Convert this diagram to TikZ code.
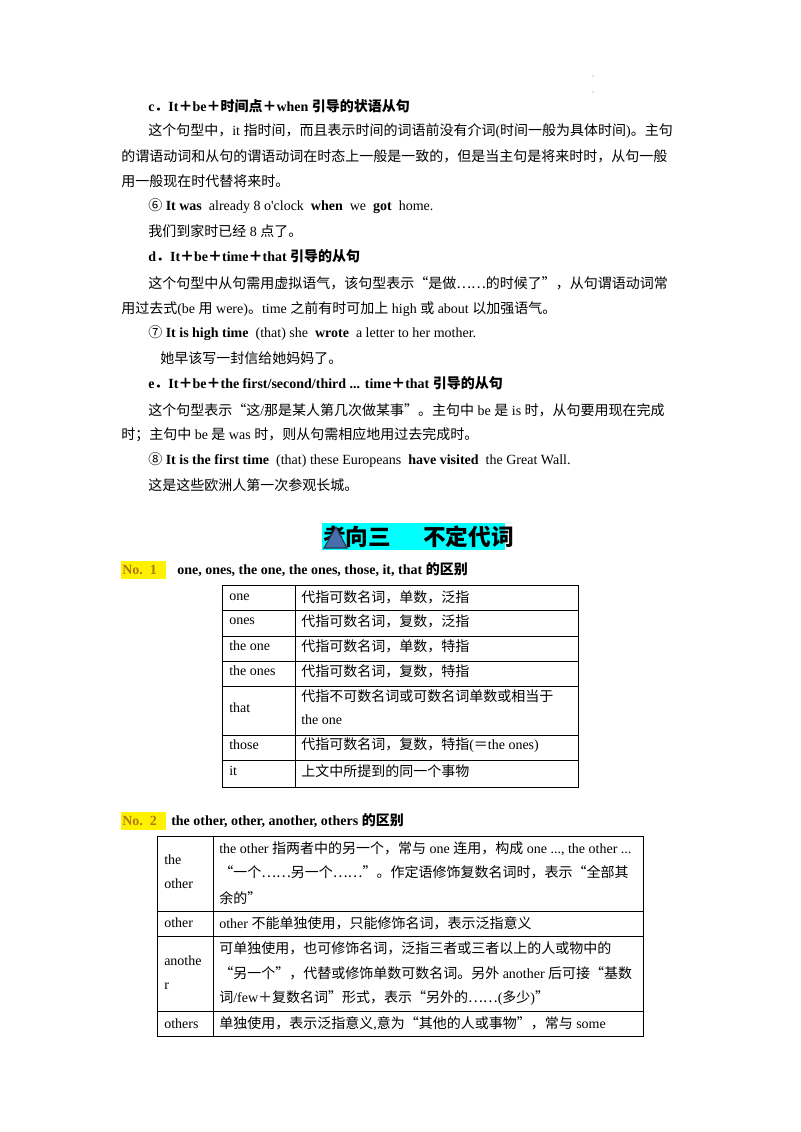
\documentclass[tikz,border=0pt]{standalone}
\usepackage{fontspec}
\setmainfont{Liberation Serif}
\newfontfamily\cjk{Noto Sans CJK SC}
\XeTeXinterchartokenstate=1
\newXeTeXintercharclass\mycjk
\makeatletter
\def\setcjkrange#1#2{\count@=#1\relax\loop\XeTeXcharclass\count@=\mycjk\ifnum\count@<#2\advance\count@ 1\repeat}
\makeatother
\setcjkrange{"4E00}{"9FFF}
\setcjkrange{"3000}{"303F}
\setcjkrange{"FF00}{"FFEF}
\setcjkrange{"2460}{"24FF}
\XeTeXcharclass"201C=\mycjk \XeTeXcharclass"201D=\mycjk \XeTeXcharclass"2026=\mycjk
\XeTeXinterchartoks 0 \mycjk = {\begingroup\cjk}
\XeTeXinterchartoks 4095 \mycjk = {\begingroup\cjk}
\XeTeXinterchartoks \mycjk 0 = {\endgroup}
\XeTeXinterchartoks \mycjk 4095 = {\endgroup}
\definecolor{nocol}{HTML}{B07A10}
\definecolor{titlebg}{HTML}{00FFFF}
\tikzset{t/.style={anchor=west,inner sep=0pt,font=\fontsize{10.5}{12}\selectfont},
 cell/.style={draw=black,line width=0.6pt}}
\begin{document}
\begin{tikzpicture}[x=0.75pt,y=-0.75pt]
\useasboundingbox (0,0) rectangle (800,1132);
\fill[gray] (593,76) circle (0.6) (593,92) circle (0.6);
\node[t] (c1) at (148,106) {\textbf{c．It＋be＋时间点＋when 引导的状语从句}};
\node[t] (c2) at (148,131) {这个句型中，it 指时间，而且表示时间的词语前没有介词(时间一般为具体时间)。主句};
\node[t] (c3) at (121,156) {的谓语动词和从句的谓语动词在时态上一般是一致的，但是当主句是将来时时，从句一般};
\node[t] (c4) at (121,181) {用一般现在时代替将来时。};
\node[t] (c5) at (148,206) {⑥ \textbf{It was}\ \ already 8 o\textquotesingle clock\ \ \textbf{when}\ \ we\ \ \textbf{got}\ \ home.};
\node[t] (c6) at (148,231) {我们到家时已经 8 点了。};
\node[t] (d1) at (148,256) {\textbf{d．It＋be＋time＋that 引导的从句}};
\node[t] (d2) at (148,283) {这个句型中从句需用虚拟语气，该句型表示“是做……的时候了”，从句谓语动词常};
\node[t] (d3) at (121,309) {用过去式(be 用 were)。time 之前有时可加上 high 或 about 以加强语气。};
\node[t] (d4) at (148,333) {⑦ \textbf{It is high time}\ \ (that) she\ \ \textbf{wrote}\ \ a letter to her mother.};
\node[t] (d5) at (160,358) {她早该写一封信给她妈妈了。};
\node[t] (e1) at (148,383) {\textbf{e．It＋be＋the first/second/third ... time＋that 引导的从句}};
\node[t] (e2) at (148,410) {这个句型表示“这/那是某人第几次做某事”。主句中 be 是 is 时，从句要用现在完成};
\node[t] (e3) at (121,435) {时；主句中 be 是 was 时，则从句需相应地用过去完成时。};
\node[t] (e4) at (148,460) {⑧ \textbf{It is the first time}\ \ (that) these Europeans\ \ \textbf{have visited}\ \ the Great Wall.};
\node[t] (e5) at (148,485) {这是这些欧洲人第一次参观长城。};
% title
\fill[titlebg] (322,523) rectangle (505,550);
\node[t,font=\fontsize{17}{19}\selectfont\bfseries] (title) at (323,537) {考向三\hspace{24pt}不定代词};
\draw[fill={rgb,255:red,70;green,110;blue,170},draw={rgb,255:red,40;green,50;blue,80},line width=0.8pt] (324,548) -- (336,527) -- (347,548) -- cycle;
% No.1
\fill[yellow] (121,561) rectangle (166,579);
\node[t,text=nocol] (n1) at (122,570) {\textbf{No.\ \ 1}};
\node[t] (h1) at (177,570) {\textbf{one, ones, the one, the ones, those, it, that 的区别}};
\foreach \a/\b in {585/610,610/636,636/661,661/686,686/735,735/760,760/787}{
 \draw[cell] (222,\a) rectangle (295,\b); \draw[cell] (295,\a) rectangle (578,\b);}
\node[t] (r1a) at (229,597) {one}; \node[t] (r1b) at (301,597) {代指可数名词，单数，泛指};
\node[t] (r2a) at (229,621) {ones}; \node[t] (r2b) at (301,621) {代指可数名词，复数，泛指};
\node[t] (r3a) at (229,646) {the one}; \node[t] (r3b) at (301,646) {代指可数名词，单数，特指};
\node[t] (r4a) at (229,671) {the ones}; \node[t] (r4b) at (301,671) {代指可数名词，复数，特指};
\node[t] (r5a) at (229,708) {that}; \node[t] (r5b) at (301,696) {代指不可数名词或可数名词单数或相当于};
\node[t] (r5c) at (301,720) {the one};
\node[t] (r6a) at (229,745) {those}; \node[t] (r6b) at (301,745) {代指可数名词，复数，特指(＝the ones)};
\node[t] (r7a) at (229,771) {it}; \node[t] (r7b) at (301,771) {上文中所提到的同一个事物};
% No.2
\fill[yellow] (121,812) rectangle (166,830);
\node[t,text=nocol] (n2) at (122,821) {\textbf{No.\ \ 2}};
\node[t] (h2) at (171,821) {\textbf{the other, other, another, others 的区别}};
\foreach \a/\b in {836/911,911/936,936/1011,1011/1036}{
 \draw[cell] (157,\a) rectangle (213,\b); \draw[cell] (213,\a) rectangle (643,\b);}
\node[t] (s1a) at (164,860) {the}; \node[t] (s1b) at (164,884) {other};
\node[t] (s1c) at (219,849) {the other 指两者中的另一个，常与 one 连用，构成 one ..., the other ...};
\node[t] (s1d) at (219,872) {“一个……另一个……”。作定语修饰复数名词时，表示“全部其};
\node[t] (s1e) at (219,898) {余的”};
\node[t] (s2a) at (164,923) {other}; \node[t] (s2b) at (219,923) {other 不能单独使用，只能修饰名词，表示泛指意义};
\node[t] (s3a) at (164,961) {anothe}; \node[t] (s3b) at (164,986) {r};
\node[t] (s3c) at (219,948) {可单独使用，也可修饰名词，泛指三者或三者以上的人或物中的};
\node[t] (s3d) at (219,973) {“另一个”，代替或修饰单数可数名词。另外 another 后可接“基数};
\node[t] (s3e) at (219,998) {词/few＋复数名词”形式，表示“另外的……(多少)”};
\node[t] (s4a) at (164,1024) {others}; \node[t] (s4b) at (219,1024) {单独使用，表示泛指意义,意为“其他的人或事物”，常与 some};
\end{tikzpicture}
\end{document}
